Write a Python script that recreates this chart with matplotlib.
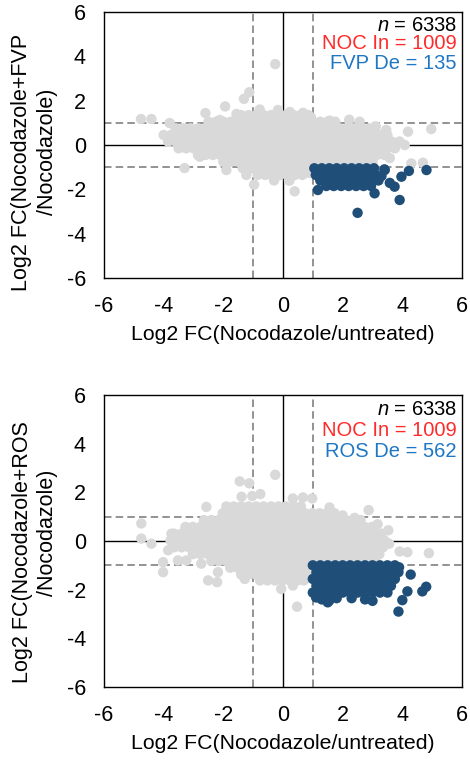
import matplotlib
matplotlib.use("Agg")
import matplotlib.pyplot as plt

plt.rcParams['font.family'] = ['Liberation Sans', 'DejaVu Sans']
plt.rcParams['axes.unicode_minus'] = False
plt.rcParams['mathtext.fontset'] = 'custom'
plt.rcParams['mathtext.it'] = 'Liberation Sans:italic'
plt.rcParams['mathtext.rm'] = 'Liberation Sans'

# ---------------- data ----------------
ticks = [-6, -4, -2, 0, 2, 4, 6]
xlabel = "Log2 FC(Nocodazole/untreated)"
ylabel_line1 = ["Log2 FC(Nocodazole+FVP", "Log2 FC(Nocodazole+ROS"]
ylabel_line2 = ["/Nocodazole)", "/Nocodazole)"]
n_total = 6338
noc_in = 1009
de_names = ["FVP", "ROS"]
de_counts = [135, 562]

# Top panel: unchanged genes (grey)
top_gray = [
    (-1.4, 1.35), (-1.15, 1.35), (-0.9, 1.35), (-0.65, 1.35), (-0.4, 1.35), (-0.15, 1.35), (0.1, 1.35), (0.35, 1.35), (0.6, 1.35), (0.85, 1.35),
    (-2.5, 1.05), (-2.25, 1.05), (-2.0, 1.05), (-1.75, 1.05), (-1.5, 1.05), (-1.25, 1.05), (-1.0, 1.05), (-0.75, 1.05), (-0.5, 1.05), (-0.25, 1.05),
    (0.0, 1.05), (0.25, 1.05), (0.5, 1.05), (0.75, 1.05), (1.0, 1.05), (1.25, 1.05), (1.5, 1.05), (1.75, 1.05),
    (-3.6, 0.75), (-3.35, 0.75), (-3.1, 0.75), (-2.85, 0.75), (-2.6, 0.75), (-2.35, 0.75), (-2.1, 0.75), (-1.85, 0.75), (-1.6, 0.75), (-1.35, 0.75),
    (-1.1, 0.75), (-0.85, 0.75), (-0.6, 0.75), (-0.35, 0.75), (-0.1, 0.75), (0.15, 0.75), (0.4, 0.75), (0.65, 0.75), (0.9, 0.75), (1.15, 0.75),
    (1.4, 0.75), (1.65, 0.75), (1.9, 0.75), (2.15, 0.75), (2.4, 0.75), (2.65, 0.75), (2.9, 0.75),
    (-4.0, 0.45), (-3.75, 0.45), (-3.5, 0.45), (-3.25, 0.45), (-3.0, 0.45), (-2.75, 0.45), (-2.5, 0.45), (-2.25, 0.45), (-2.0, 0.45), (-1.75, 0.45),
    (-1.5, 0.45), (-1.25, 0.45), (-1.0, 0.45), (-0.75, 0.45), (-0.5, 0.45), (-0.25, 0.45), (0.0, 0.45), (0.25, 0.45), (0.5, 0.45), (0.75, 0.45),
    (1.0, 0.45), (1.25, 0.45), (1.5, 0.45), (1.75, 0.45), (2.0, 0.45), (2.25, 0.45), (2.5, 0.45), (2.75, 0.45), (3.0, 0.45), (3.25, 0.45), (3.5, 0.45),
    (-3.85, 0.15), (-3.6, 0.15), (-3.35, 0.15), (-3.1, 0.15), (-2.85, 0.15), (-2.6, 0.15), (-2.35, 0.15), (-2.1, 0.15), (-1.85, 0.15), (-1.6, 0.15),
    (-1.35, 0.15), (-1.1, 0.15), (-0.85, 0.15), (-0.6, 0.15), (-0.35, 0.15), (-0.1, 0.15), (0.15, 0.15), (0.4, 0.15), (0.65, 0.15), (0.9, 0.15),
    (1.15, 0.15), (1.4, 0.15), (1.65, 0.15), (1.9, 0.15), (2.15, 0.15), (2.4, 0.15), (2.65, 0.15), (2.9, 0.15), (3.15, 0.15), (3.4, 0.15),
    (3.65, 0.15), (3.9, 0.15),
    (-3.5, -0.15), (-3.25, -0.15), (-3.0, -0.15), (-2.75, -0.15), (-2.5, -0.15), (-2.25, -0.15), (-2.0, -0.15), (-1.75, -0.15), (-1.5, -0.15),
    (-1.25, -0.15), (-1.0, -0.15), (-0.75, -0.15), (-0.5, -0.15), (-0.25, -0.15), (0.0, -0.15), (0.25, -0.15), (0.5, -0.15), (0.75, -0.15),
    (1.0, -0.15), (1.25, -0.15), (1.5, -0.15), (1.75, -0.15), (2.0, -0.15), (2.25, -0.15), (2.5, -0.15), (2.75, -0.15), (3.0, -0.15),
    (3.25, -0.15), (3.5, -0.15), (3.75, -0.15),
    (-2.85, -0.45), (-2.6, -0.45), (-2.35, -0.45), (-2.1, -0.45), (-1.85, -0.45), (-1.6, -0.45), (-1.35, -0.45), (-1.1, -0.45), (-0.85, -0.45),
    (-0.6, -0.45), (-0.35, -0.45), (-0.1, -0.45), (0.15, -0.45), (0.4, -0.45), (0.65, -0.45), (0.9, -0.45), (1.15, -0.45), (1.4, -0.45),
    (1.65, -0.45), (1.9, -0.45), (2.15, -0.45), (2.4, -0.45), (2.65, -0.45), (2.9, -0.45), (3.15, -0.45), (3.4, -0.45),
    (-2.0, -0.75), (-1.75, -0.75), (-1.5, -0.75), (-1.25, -0.75), (-1.0, -0.75), (-0.75, -0.75), (-0.5, -0.75), (-0.25, -0.75), (0.0, -0.75),
    (0.25, -0.75), (0.5, -0.75), (0.75, -0.75), (1.0, -0.75), (1.25, -0.75), (1.5, -0.75), (1.75, -0.75), (2.0, -0.75), (2.25, -0.75),
    (2.5, -0.75), (2.75, -0.75), (3.0, -0.75),
    (-1.35, -1.05), (-1.1, -1.05), (-0.85, -1.05), (-0.6, -1.05), (-0.35, -1.05), (-0.1, -1.05), (0.15, -1.05), (0.4, -1.05), (0.65, -1.05), (0.9, -1.05),
    (-0.85, -1.35), (-0.6, -1.35), (-0.35, -1.35), (-0.1, -1.35), (0.15, -1.35), (0.4, -1.35), (0.65, -1.35),
    (-0.3, -1.6), (0.2, -1.6),
    # scattered outliers
    (-0.26, 3.65), (-1.13, 2.38), (-1.31, 2.08), (-1.94, 1.74), (-2.6, 1.44), (-4.76, 1.17), (-4.41, 1.17), (-3.8, 0.99),
    (-2.12, 1.13), (-1.56, 1.4), (-0.78, 1.6), (-0.17, 1.58), (0.23, 1.49), (0.67, 1.45), (0.94, 1.25), (1.56, 1.1), (2.22, 1.14),
    (2.57, 1.05), (3.11, 0.84), (3.46, 0.68), (4.19, 0.6), (4.97, 0.72), (3.91, 0.15), (4.08, 0.0), (3.58, -0.59), (4.3, -0.83),
    (4.69, -0.8), (-2.79, -0.53), (-3.3, -1.04), (-1.9, -1.13), (-1.23, -1.35), (-0.97, -1.79), (0.39, -2.09), (0.22, -1.6), (0.89, -1.26),
]

# Top panel: NOC-increased & FVP-decreased genes (blue)
top_blue = [
    (1.05, -1.05), (1.3, -1.05), (1.55, -1.05), (1.8, -1.05), (2.05, -1.05), (2.3, -1.05), (2.55, -1.05), (2.8, -1.05), (3.05, -1.05), (3.4, -1.1),
    (1.1, -1.35), (1.35, -1.35), (1.6, -1.35), (1.85, -1.35), (2.1, -1.35), (2.35, -1.35), (2.6, -1.35), (2.85, -1.35), (3.1, -1.35), (3.3, -1.4),
    (1.25, -1.6), (1.5, -1.6), (1.75, -1.6), (2.0, -1.6), (2.25, -1.6), (2.5, -1.6), (2.75, -1.6), (3.0, -1.6), (3.2, -1.6),
    (1.45, -1.85), (1.7, -1.85), (1.95, -1.85), (2.2, -1.85), (2.45, -1.85), (2.7, -1.85), (2.95, -1.85),
    (1.17, -2.03), (2.5, -3.06), (3.91, -2.48), (4.81, -1.13), (4.22, -1.17), (3.97, -1.43), (3.74, -1.88), (3.58, -1.71),
    (3.07, -2.18), (3.41, -1.13),
]

# Bottom panel: unchanged genes (grey)
bot_gray = [
    (-1.9, 1.42), (-1.65, 1.42), (-1.4, 1.42), (-1.15, 1.42), (-0.9, 1.42), (-0.65, 1.42), (-0.4, 1.42), (-0.15, 1.42), (0.1, 1.42), (0.35, 1.42), (0.6, 1.42),
    (-2.02, 1.14), (-1.77, 1.14), (-1.52, 1.14), (-1.27, 1.14), (-1.02, 1.14), (-0.77, 1.14), (-0.52, 1.14), (-0.27, 1.14), (-0.02, 1.14),
    (0.23, 1.14), (0.48, 1.14), (0.73, 1.14), (0.98, 1.14), (1.23, 1.14), (1.48, 1.14), (1.73, 1.14),
    (-2.65, 0.86), (-2.4, 0.86), (-2.15, 0.86), (-1.9, 0.86), (-1.65, 0.86), (-1.4, 0.86), (-1.15, 0.86), (-0.9, 0.86), (-0.65, 0.86), (-0.4, 0.86),
    (-0.15, 0.86), (0.1, 0.86), (0.35, 0.86), (0.6, 0.86), (0.85, 0.86), (1.1, 0.86), (1.35, 0.86), (1.6, 0.86), (1.85, 0.86), (2.1, 0.86),
    (2.35, 0.86), (2.6, 0.86),
    (-3.27, 0.58), (-3.02, 0.58), (-2.77, 0.58), (-2.52, 0.58), (-2.27, 0.58), (-2.02, 0.58), (-1.77, 0.58), (-1.52, 0.58), (-1.27, 0.58),
    (-1.02, 0.58), (-0.77, 0.58), (-0.52, 0.58), (-0.27, 0.58), (-0.02, 0.58), (0.23, 0.58), (0.48, 0.58), (0.73, 0.58), (0.98, 0.58),
    (1.23, 0.58), (1.48, 0.58), (1.73, 0.58), (1.98, 0.58), (2.23, 0.58), (2.48, 0.58), (2.73, 0.58), (2.98, 0.58),
    (-3.65, 0.3), (-3.4, 0.3), (-3.15, 0.3), (-2.9, 0.3), (-2.65, 0.3), (-2.4, 0.3), (-2.15, 0.3), (-1.9, 0.3), (-1.65, 0.3), (-1.4, 0.3),
    (-1.15, 0.3), (-0.9, 0.3), (-0.65, 0.3), (-0.4, 0.3), (-0.15, 0.3), (0.1, 0.3), (0.35, 0.3), (0.6, 0.3), (0.85, 0.3), (1.1, 0.3),
    (1.35, 0.3), (1.6, 0.3), (1.85, 0.3), (2.1, 0.3), (2.35, 0.3), (2.6, 0.3), (2.85, 0.3), (3.1, 0.3), (3.3, 0.3),
    (-3.77, 0.02), (-3.52, 0.02), (-3.27, 0.02), (-3.02, 0.02), (-2.77, 0.02), (-2.52, 0.02), (-2.27, 0.02), (-2.02, 0.02), (-1.77, 0.02),
    (-1.52, 0.02), (-1.27, 0.02), (-1.02, 0.02), (-0.77, 0.02), (-0.52, 0.02), (-0.27, 0.02), (-0.02, 0.02), (0.23, 0.02), (0.48, 0.02),
    (0.73, 0.02), (0.98, 0.02), (1.23, 0.02), (1.48, 0.02), (1.73, 0.02), (1.98, 0.02), (2.23, 0.02), (2.48, 0.02), (2.73, 0.02),
    (2.98, 0.02), (3.23, 0.02), (3.4, 0.02),
    (-3.65, -0.26), (-3.4, -0.26), (-3.15, -0.26), (-2.9, -0.26), (-2.65, -0.26), (-2.4, -0.26), (-2.15, -0.26), (-1.9, -0.26), (-1.65, -0.26),
    (-1.4, -0.26), (-1.15, -0.26), (-0.9, -0.26), (-0.65, -0.26), (-0.4, -0.26), (-0.15, -0.26), (0.1, -0.26), (0.35, -0.26), (0.6, -0.26),
    (0.85, -0.26), (1.1, -0.26), (1.35, -0.26), (1.6, -0.26), (1.85, -0.26), (2.1, -0.26), (2.35, -0.26), (2.6, -0.26), (2.85, -0.26),
    (3.1, -0.26), (3.35, -0.26),
    (-3.02, -0.54), (-2.77, -0.54), (-2.52, -0.54), (-2.27, -0.54), (-2.02, -0.54), (-1.77, -0.54), (-1.52, -0.54), (-1.27, -0.54),
    (-1.02, -0.54), (-0.77, -0.54), (-0.52, -0.54), (-0.27, -0.54), (-0.02, -0.54), (0.23, -0.54), (0.48, -0.54), (0.73, -0.54),
    (0.98, -0.54), (1.23, -0.54), (1.48, -0.54), (1.73, -0.54), (1.98, -0.54), (2.23, -0.54), (2.48, -0.54), (2.73, -0.54), (2.98, -0.54),
    (3.23, -0.54),
    (-2.4, -0.82), (-2.15, -0.82), (-1.9, -0.82), (-1.65, -0.82), (-1.4, -0.82), (-1.15, -0.82), (-0.9, -0.82), (-0.65, -0.82), (-0.4, -0.82),
    (-0.15, -0.82), (0.1, -0.82), (0.35, -0.82), (0.6, -0.82), (0.85, -0.82), (1.1, -0.82), (1.35, -0.82), (1.6, -0.82), (1.85, -0.82),
    (2.1, -0.82), (2.35, -0.82), (2.6, -0.82), (2.85, -0.82), (3.1, -0.82),
    (-1.77, -1.1), (-1.52, -1.1), (-1.27, -1.1), (-1.02, -1.1), (-0.77, -1.1), (-0.52, -1.1), (-0.27, -1.1), (-0.02, -1.1), (0.23, -1.1),
    (0.48, -1.1), (0.73, -1.1),
    (-1.4, -1.38), (-1.15, -1.38), (-0.9, -1.38), (-0.65, -1.38), (-0.4, -1.38), (-0.15, -1.38), (0.1, -1.38), (0.35, -1.38), (0.6, -1.38), (0.8, -1.38),
    (-0.77, -1.62), (-0.52, -1.62), (-0.27, -1.62), (-0.02, -1.62), (0.23, -1.62), (0.48, -1.62), (0.7, -1.62),
    # scattered outliers
    (-0.26, 2.72), (-1.45, 2.45), (-1.13, 2.37), (-1.39, 1.82), (-1.03, 1.85), (-0.76, 1.93), (0.33, 1.75), (0.67, 1.79), (0.98, 1.75),
    (1.56, 1.38), (2.87, 1.27), (3.17, 0.69), (3.53, 0.44), (3.56, -0.11), (3.91, -0.43), (4.17, -0.46), (4.89, -0.5), (-2.57, 1.4),
    (-4.75, 0.72), (-4.75, 0.1), (-4.41, -0.11), (-4.02, -0.87), (-4.02, -1.28), (-3.85, -0.38), (-3.74, 0.3), (-3.52, -0.8), (-3.24, -0.8),
    (-2.74, -0.93), (-2.51, -1.62), (-2.21, -1.69), (-2.18, -1.28), (-1.28, -1.56), (-0.06, -1.97), (0.47, -2.7), (0.33, -1.83),
    (2.0, 1.05), (2.4, 0.95),
]

# Bottom panel: NOC-increased & ROS-decreased genes (blue)
bot_blue = [
    (1.0, -1.0), (1.25, -1.0), (1.5, -1.0), (1.75, -1.0), (2.0, -1.0), (2.25, -1.0), (2.5, -1.0), (2.75, -1.0), (3.0, -1.0), (3.25, -1.0), (3.5, -1.0), (3.75, -1.0),
    (1.12, -1.28), (1.37, -1.28), (1.62, -1.28), (1.87, -1.28), (2.12, -1.28), (2.37, -1.28), (2.62, -1.28), (2.87, -1.28), (3.12, -1.28), (3.37, -1.28), (3.62, -1.28), (3.87, -1.28),
    (1.0, -1.56), (1.25, -1.56), (1.5, -1.56), (1.75, -1.56), (2.0, -1.56), (2.25, -1.56), (2.5, -1.56), (2.75, -1.56), (3.0, -1.56), (3.25, -1.56), (3.5, -1.56), (3.75, -1.56),
    (1.12, -1.84), (1.37, -1.84), (1.62, -1.84), (1.87, -1.84), (2.12, -1.84), (2.37, -1.84), (2.62, -1.84), (2.87, -1.84), (3.12, -1.84), (3.37, -1.84), (3.62, -1.84),
    (1.0, -2.12), (1.25, -2.12), (1.5, -2.12), (1.75, -2.12), (2.0, -2.12), (2.25, -2.12), (2.5, -2.12), (2.75, -2.12), (3.0, -2.12), (3.25, -2.12), (3.5, -2.12),
    (1.3, -2.4), (1.55, -2.45), (1.8, -2.35), (2.3, -2.35), (2.75, -2.4),
    (3.87, -2.9), (4.28, -1.38), (4.8, -1.88), (4.67, -2.07), (4.17, -2.07), (4.0, -2.43), (3.89, -1.08), (3.61, -1.08), (1.11, -2.32),
    (1.5, -2.52), (3.0, -2.46),
]

gray_color = "#D9D9D9"
blue_color = "#1F4E79"

# ---------------- figure ----------------
W, H = 470, 762
fig = plt.figure(figsize=(W / 100, H / 100), dpi=100)
ax_top = fig.add_axes([104 / W, 1 - 278 / H, 358 / W, 266 / H])
ax_bot = fig.add_axes([104 / W, 1 - 687 / H, 358 / W, 292 / H])

panels = [
    (ax_top, top_gray, top_blue, 0, (0.951, 0.883, 0.807), (22, 162), (48, 152)),
    (ax_bot, bot_gray, bot_blue, 1, (0.949, 0.880, 0.805), (23, 552), (48, 533)),
]

for ax, gpts, bpts, i, ty, l1, l2 in panels:
    ax.axhline(0, color="black", lw=1.0, zorder=1)
    ax.axvline(0, color="black", lw=1.0, zorder=1)
    for v in (-1, 1):
        ax.axhline(v, color="#808080", lw=1.2, dashes=(4.5, 2.5), zorder=1)
        ax.axvline(v, color="#808080", lw=1.2, dashes=(4.5, 2.5), zorder=1)
    gx = [p[0] for p in gpts]
    gy = [p[1] for p in gpts]
    bx = [p[0] for p in bpts]
    by = [p[1] for p in bpts]
    ax.scatter(gx, gy, s=56, color=gray_color, edgecolors="none", zorder=2)
    ax.scatter(bx, by, s=56, color=blue_color, edgecolors="none", zorder=3)
    ax.set_xlim(-6, 6)
    ax.set_ylim(-6, 6)
    ax.set_xticks(ticks)
    ax.set_yticks(ticks)
    ax.tick_params(length=0, labelsize=15.5, pad=13)
    for s in ax.spines.values():
        s.set_linewidth(1.0)
    ax.set_xlabel(xlabel, fontsize=15.3, labelpad=6)
    fig.text(l1[0] / W, 1 - l1[1] / H, ylabel_line1[i], rotation=90, ha="center", va="center", fontsize=15.5)
    fig.text(l2[0] / W, 1 - l2[1] / H, ylabel_line2[i], rotation=90, ha="center", va="center", fontsize=15.5)
    ax.text(0.985, ty[0], r"$n$ = %d" % n_total, transform=ax.transAxes, ha="right", va="center", fontsize=14.5, color="black")
    ax.text(0.985, ty[1], "NOC In = %d" % noc_in, transform=ax.transAxes, ha="right", va="center", fontsize=14.5, color="#FF2A2A")
    ax.text(0.985, ty[2], "%s De = %d" % (de_names[i], de_counts[i]), transform=ax.transAxes, ha="right", va="center", fontsize=14.5, color="#1F77C4")

fig.savefig("out.png", dpi=100)
